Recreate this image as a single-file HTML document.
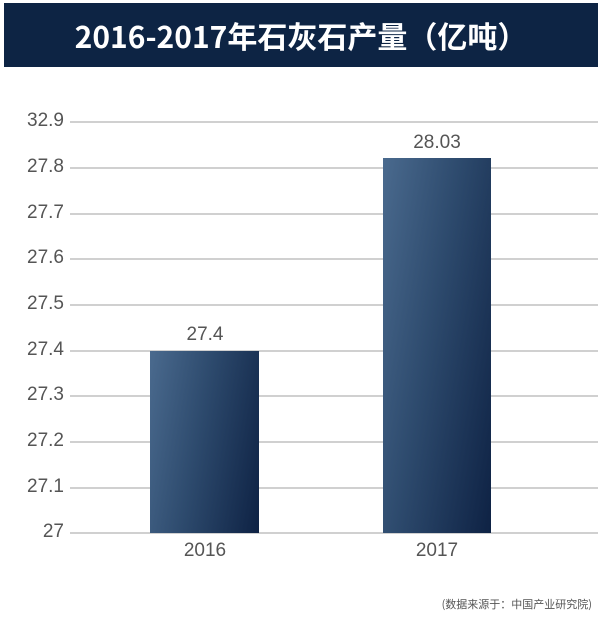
<!DOCTYPE html>
<html><head><meta charset="utf-8"><style>
body{margin:0;width:600px;height:624px;background:#fff;position:relative;overflow:hidden;font-family:"Liberation Sans","Noto Sans CJK SC",sans-serif}
.t{position:absolute;left:4px;top:3px;width:594px;height:64px;background:#0d2444;color:#fff;font-family:"Noto Sans CJK SC",sans-serif;font-weight:bold;font-size:30px;line-height:64px;text-align:center}
.g{position:absolute;left:70px;width:528px;height:2px;background:#d0d0d0}
.y{position:absolute;left:0;width:64px;text-align:right;font-size:19px;color:#555}
.b{position:absolute;background:linear-gradient(100deg,#4a6a8e,#2d4a6d 45%,#0e2244)}
.l{position:absolute;font-size:19px;color:#555;text-align:center;width:120px}
.s{position:absolute;right:8px;top:596px;font-size:11px;color:#555;font-family:"Noto Sans CJK SC",sans-serif}
</style></head><body>
<div class="t">2016-2017年石灰石产量（亿吨）</div>
<div class="g" style="top:121px"></div><div class="y" style="top:110px">32.9</div>
<div class="g" style="top:167px"></div><div class="y" style="top:156px">27.8</div>
<div class="g" style="top:213px"></div><div class="y" style="top:202px">27.7</div>
<div class="g" style="top:258px"></div><div class="y" style="top:247px">27.6</div>
<div class="g" style="top:304px"></div><div class="y" style="top:293px">27.5</div>
<div class="g" style="top:350px"></div><div class="y" style="top:339px">27.4</div>
<div class="g" style="top:395px"></div><div class="y" style="top:384px">27.3</div>
<div class="g" style="top:441px"></div><div class="y" style="top:430px">27.2</div>
<div class="g" style="top:487px"></div><div class="y" style="top:476px">27.1</div>
<div class="g" style="top:532px"></div><div class="y" style="top:521px">27</div>
<div class="b" style="left:150px;top:351px;width:109px;height:182px"></div>
<div class="b" style="left:383px;top:158px;width:108px;height:375px"></div>
<div class="l" style="left:145px;top:324px">27.4</div>
<div class="l" style="left:377px;top:132px">28.03</div>
<div class="l" style="left:145px;top:540px">2016</div>
<div class="l" style="left:377px;top:540px">2017</div>
<div class="s">(数据来源于：中国产业研究院)</div>
</body></html>
